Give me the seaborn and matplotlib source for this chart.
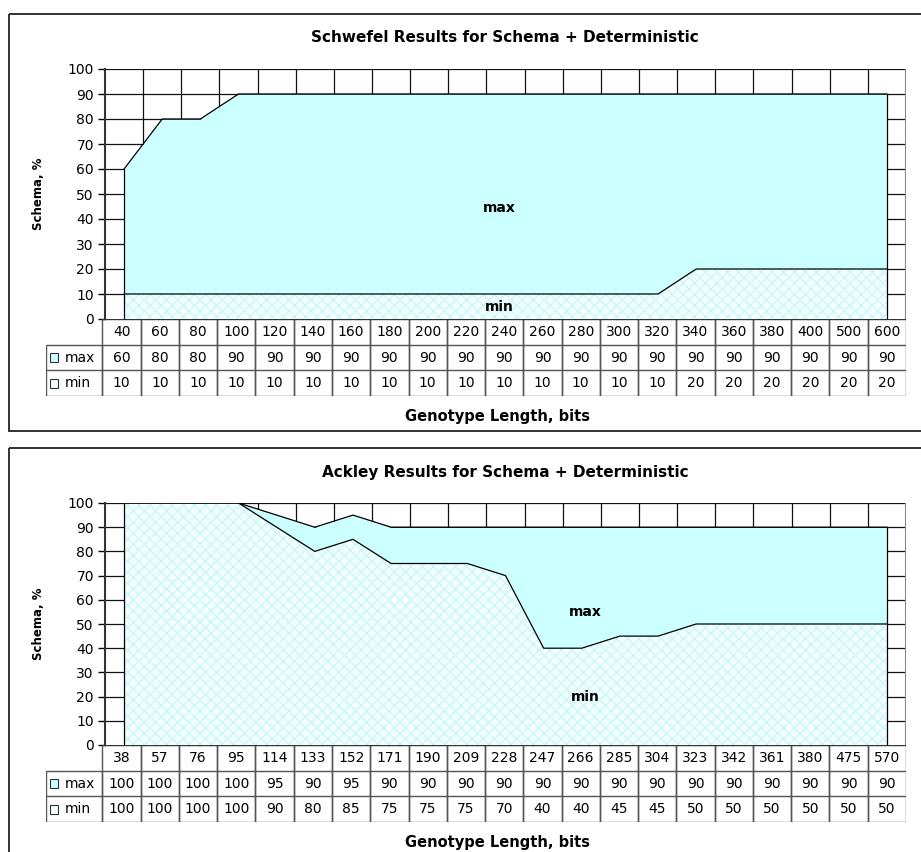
import matplotlib
matplotlib.use("Agg")
import matplotlib.pyplot as plt
from matplotlib.patches import Rectangle
import numpy as np
import pandas as pd
import seaborn as sns

sns.set_theme(style="white")
plt.rcParams['font.family'] = ['DejaVu Sans']
plt.rcParams['hatch.linewidth'] = 0.8
plt.rcParams['text.color'] = 'black'
plt.rcParams['ytick.color'] = 'black'
plt.rcParams['xtick.color'] = 'black'

# Data
schwefel_len = [40, 60, 80, 100, 120, 140, 160, 180, 200, 220, 240, 260, 280, 300, 320, 340, 360, 380, 400, 500, 600]
schwefel_max = [60, 80, 80, 90, 90, 90, 90, 90, 90, 90, 90, 90, 90, 90, 90, 90, 90, 90, 90, 90, 90]
schwefel_min = [10, 10, 10, 10, 10, 10, 10, 10, 10, 10, 10, 10, 10, 10, 10, 20, 20, 20, 20, 20, 20]

ackley_len = [38, 57, 76, 95, 114, 133, 152, 171, 190, 209, 228, 247, 266, 285, 304, 323, 342, 361, 380, 475, 570]
ackley_max = [100, 100, 100, 100, 95, 90, 95, 90, 90, 90, 90, 90, 90, 90, 90, 90, 90, 90, 90, 90, 90]
ackley_min = [100, 100, 100, 100, 90, 80, 85, 75, 75, 75, 70, 40, 40, 45, 45, 50, 50, 50, 50, 50, 50]

W, H = 921, 852
fig = plt.figure(figsize=(W / 100, H / 100), dpi=100)

MAX_COLOR = '#CCFFFF'
MIN_FACE = '#F1FFFF'
MIN_HATCH = '#C6F5F8'
GRID = '#111111'
TABLE_LINE = '#555555'
FS = 10


def px_axes(left, top, right, bottom):
    return fig.add_axes([left / W, 1 - bottom / H, (right - left) / W, (bottom - top) / H])


def draw_chart(title, lengths, vmax, vmin, box_top, y100, y0, row_h, max_lbl, min_lbl):
    n = len(lengths)
    left, right = 105, 906
    # outer frame (cut off on the right like the original)
    frame = px_axes(0, 0, W, H)
    frame.set_xlim(0, W)
    frame.set_ylim(H, 0)
    frame.axis('off')
    frame.add_patch(Rectangle((9, box_top), 1000, 417, fill=False, lw=1.3, ec='#222222'))

    ax = px_axes(left, y100, right, y0)
    ax.set_xlim(0, n)
    ax.set_ylim(0, 100)
    x = np.arange(n) + 0.5
    df = pd.DataFrame({'x': x, 'max': vmax, 'min': vmin})

    # gridlines
    for gx in range(1, n):
        ax.axvline(gx, color=GRID, lw=0.9, zorder=1)
    for gy in range(10, 101, 10):
        ax.axhline(gy, color=GRID, lw=0.9, zorder=1)
    ax.axvline(n, color='#888888', lw=1.5, zorder=1)

    # areas
    ax.fill_between(df['x'], 0, df['max'], color=MAX_COLOR, lw=0, zorder=2)
    ax.fill_between(df['x'], 0, df['min'], facecolor=MIN_FACE, edgecolor=MIN_HATCH,
                    hatch='xxx', lw=0, zorder=3)

    # outlines
    sns.lineplot(data=df, x='x', y='max', color='black', lw=0.9, ax=ax, zorder=4)
    sns.lineplot(data=df, x='x', y='min', color='black', lw=0.9, ax=ax, zorder=4)
    ax.plot([x[0], x[0]], [0, vmax[0]], color='black', lw=0.9, zorder=4)
    ax.plot([x[-1], x[-1]], [0, vmax[-1]], color='black', lw=0.9, zorder=4)

    ax.text(max_lbl[0], max_lbl[1], 'max', ha='center', va='center', fontsize=10,
            fontweight='bold', zorder=5)
    ax.text(min_lbl[0], min_lbl[1], 'min', ha='center', va='center', fontsize=10,
            fontweight='bold', zorder=5)

    ax.set_xticks([])
    ax.set_yticks(range(0, 101, 10))
    ax.tick_params(axis='y', direction='out', length=5, width=1, color='black',
                   labelsize=FS, labelcolor='black', pad=3, left=True)
    for s in ['top', 'right']:
        ax.spines[s].set_visible(False)
    ax.spines['left'].set_color('#333333')
    ax.spines['left'].set_linewidth(1.5)
    ax.spines['bottom'].set_visible(False)
    ax.set_xlabel('')
    ax.set_ylabel('')

    # data table
    leg_w = (left - 46) / 40.0
    tab = px_axes(46, y0, right, y0 + 3 * row_h)
    tab.set_xlim(-leg_w, n)
    tab.set_ylim(3, 0)
    tab.axis('off')
    for i in range(n):
        tab.add_patch(Rectangle((i, 0), 1, 3, fill=False, ec=TABLE_LINE, lw=1))
        tab.text(i + 0.5, 0.5, str(lengths[i]), ha='center', va='center', fontsize=FS)
        tab.text(i + 0.5, 1.5, str(vmax[i]), ha='center', va='center', fontsize=FS)
        tab.text(i + 0.5, 2.5, str(vmin[i]), ha='center', va='center', fontsize=FS)
    tab.plot([0, n], [1, 1], color=TABLE_LINE, lw=1)
    tab.plot([-leg_w, n], [2, 2], color=TABLE_LINE, lw=1)
    tab.plot([0, n], [0, 0], color='#333333', lw=1.5)
    tab.add_patch(Rectangle((-leg_w, 1), leg_w, 2, fill=False, ec=TABLE_LINE, lw=1))
    for r, (name, fc) in enumerate([('max', MAX_COLOR), ('min', MIN_FACE)]):
        tab.add_patch(Rectangle((-leg_w + 0.1, 1 + r + 0.32), 0.22, 0.36, fc=fc,
                                ec='#333333', lw=0.8))
        tab.text(-leg_w + 0.5, 1.5 + r, name, ha='left', va='center', fontsize=FS)

    # titles
    fig.text(505 / W, 1 - (box_top + 24) / H, title, ha='center', va='center',
             fontsize=11, fontweight='bold')
    fig.text(38 / W, 1 - ((y100 + y0) / 2) / H, 'Schema, %', ha='center', va='center',
             rotation=90, fontsize=8.5, fontweight='bold')
    fig.text(497 / W, 1 - (y0 + 3 * row_h + 20) / H, 'Genotype Length, bits',
             ha='center', va='center', fontsize=10.5, fontweight='bold')


draw_chart('Schwefel Results for Schema + Deterministic', schwefel_len, schwefel_max,
           schwefel_min, box_top=14, y100=69, y0=319, row_h=25.7,
           max_lbl=(10.35, 44.5), min_lbl=(10.35, 4.8))
draw_chart('Ackley Results for Schema + Deterministic', ackley_len, ackley_max,
           ackley_min, box_top=448, y100=503, y0=745, row_h=25.7,
           max_lbl=(12.6, 55), min_lbl=(12.6, 20))

fig.savefig('out.png', dpi=100)
